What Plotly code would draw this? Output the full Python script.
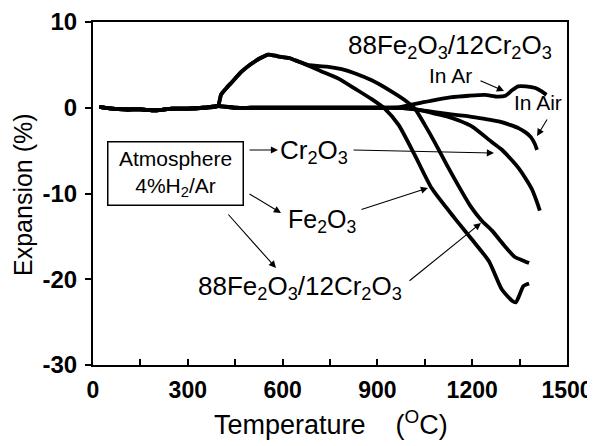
import plotly.graph_objects as go

# ---- data ----
base_T = [20, 60, 100, 150, 200, 250, 300, 350, 395]
base_E = [0.1, -0.1, -0.2, -0.2, -0.3, -0.1, -0.1, 0.0, 0.2]

fe_T = base_T + [405, 420, 440, 470, 500, 530, 555, 585, 620, 669, 720, 777, 830, 882,
                 923, 967, 1018, 1072, 1145, 1200, 1253, 1294, 1326, 1338, 1350, 1362, 1380]
fe_E = base_E + [1.5, 2.2, 3.0, 4.2, 5.1, 5.8, 6.2, 6.0, 5.8, 5.1, 4.3, 3.4, 2.2, 1.0,
                 -0.1, -2.0, -5.5, -9.4, -12.9, -15.4, -17.9, -21.2, -22.5, -22.7, -21.8, -20.8, -20.5]

mix_h2_T = base_T + [405, 420, 440, 470, 500, 530, 555, 585, 620, 650, 680, 701, 740, 787,
                     830, 882, 940, 986, 1018, 1050, 1081, 1120, 1158, 1195, 1231, 1262,
                     1300, 1335, 1360, 1380]
mix_h2_E = base_E + [1.5, 2.2, 3.0, 4.2, 5.1, 5.8, 6.2, 6.0, 5.8, 5.4, 5.0, 4.9, 4.8, 4.5,
                     4.0, 3.2, 2.0, 0.9, -0.1, -2.0, -4.0, -6.7, -9.2, -11.5, -13.2, -14.3,
                     -16.0, -17.4, -17.8, -18.1]

tail_T = [450, 500, 600, 700, 800, 900, 960]
tail_E = [0.0, 0.0, 0.0, 0.0, 0.0, 0.0, 0.0]

cr_T = base_T + tail_T + [1000, 1040, 1072, 1120, 1158, 1200, 1262, 1294, 1330, 1348, 1370,
                          1389, 1405, 1414]
cr_E = base_E + tail_E + [-0.1, -0.3, -0.6, -1.0, -1.5, -2.2, -4.0, -4.9, -6.3, -7.1, -8.3,
                          -9.5, -11.0, -12.0]

air_T = base_T + tail_T + [1000, 1040, 1081, 1140, 1189, 1240, 1284, 1320, 1348, 1370, 1385,
                           1398, 1405]
air_E = base_E + tail_E + [-0.1, -0.3, -0.5, -0.8, -1.0, -1.3, -1.6, -2.0, -2.4, -2.9, -3.4,
                           -4.2, -4.9]

ar_T = base_T + tail_T + [1000, 1040, 1081, 1130, 1189, 1240, 1280, 1305, 1325, 1345, 1370,
                          1400, 1420, 1435]
ar_E = base_E + tail_E + [0.3, 0.6, 0.9, 1.2, 1.4, 1.5, 1.3, 1.4, 2.0, 2.5, 2.5,
                          2.3, 1.9, 1.5]

x_ticks = [0, 300, 600, 900, 1200, 1500]
x_labels = ["0", "300", "600", "900", "1200", "1500"]
y_ticks = [-30, -20, -10, 0, 10]
y_labels = ["-30", "-20", "-10", "0", "10"]

FONT = "Liberation Sans, Arial, sans-serif"

fig = go.Figure()
series = [
    ("Cr2O3", cr_T, cr_E),
    ("88Fe2O3/12Cr2O3 in Air", air_T, air_E),
    ("88Fe2O3/12Cr2O3 in Ar", ar_T, ar_E),
    ("88Fe2O3/12Cr2O3 in 4%H2/Ar", mix_h2_T, mix_h2_E),
    ("Fe2O3", fe_T, fe_E),
]
for name, t, e in series:
    fig.add_trace(go.Scatter(x=t, y=e, mode="lines", name=name,
                             line=dict(color="black", width=3.8, shape="spline", smoothing=0.6),
                             showlegend=False))

# target plot area in screen pixels; the page body adds an 8 px offset
W, H = 595, 446
OFF = 8
L, R, T, B = 93, 567, 22, 365


def P(px, py):
    return (px - L) / (R - L), (B - py) / (B - T)


ann = []


def text(s, px, py, size=19, xanchor="left"):
    x, y = P(px, py)
    ann.append(dict(text=s, x=x, y=y, xref="paper", yref="paper", showarrow=False,
                    xanchor=xanchor, yanchor="middle",
                    font=dict(family=FONT, size=size, color="black")))


def arrow(tx, ty, hx, hy):
    x, y = P(hx, hy)
    ann.append(dict(text="", x=x, y=y, xref="paper", yref="paper", showarrow=True,
                    ax=tx - hx, ay=ty - hy, axref="pixel", ayref="pixel",
                    arrowhead=2, arrowsize=1.3, arrowwidth=1.1, arrowcolor="black"))


text("88Fe<sub>2</sub>O<sub>3</sub>/12Cr<sub>2</sub>O<sub>3</sub>", 346, 46, size=26)
text("In Ar", 427, 75, size=21)
arrow(479, 80, 504, 91)
text("In Air", 512, 103, size=21)
arrow(548, 118, 537, 136)

# box
bx, by = P(175.5, 173.5)
ann.append(dict(text="Atmosphere<br>4%H<sub>2</sub>/Ar", x=bx, y=by, xref="paper", yref="paper",
                showarrow=False, xanchor="center", yanchor="middle",
                font=dict(family=FONT, size=21, color="black"),
                bordercolor="black", borderwidth=1.5, borderpad=2, bgcolor="white",
                width=130, height=58))

text("Cr<sub>2</sub>O<sub>3</sub>", 278, 151, size=26)
arrow(248, 150, 278, 150)
arrow(352, 150, 494, 153)

text("Fe<sub>2</sub>O<sub>3</sub>", 286, 221, size=25)
arrow(248, 193, 281, 213)
arrow(360, 210, 428, 188)

text("88Fe<sub>2</sub>O<sub>3</sub>/12Cr<sub>2</sub>O<sub>3</sub>", 196, 287, size=26)
arrow(227, 213, 276, 268)
arrow(408, 282, 481, 223)

# axis titles
tx, ty = P(331, 423)
ann.append(dict(text="Temperature \u00a0\u00a0\u00a0(<sup>O</sup>C)", x=tx, y=ty,
                xref="paper", yref="paper",
                showarrow=False, xanchor="center", yanchor="middle",
                font=dict(family=FONT, size=27, color="black")))
tx, ty = P(23, 195)
ann.append(dict(text="Expansion (%)", x=tx, y=ty, xref="paper", yref="paper",
                showarrow=False, xanchor="center", yanchor="middle", textangle=-90,
                font=dict(family=FONT, size=25, color="black")))

fig.update_layout(
    width=W, height=H,
    margin=dict(l=L - OFF, r=W - (R - OFF), t=T - OFF, b=H - (B - OFF), autoexpand=False),
    paper_bgcolor="white", plot_bgcolor="white",
    annotations=ann,
    showlegend=False,
)
fig.update_xaxes(range=[0, 1500], tickvals=x_ticks, ticktext=x_labels, ticks="inside", ticklen=0,
                 automargin=False, ticklabelstandoff=3,
                 showgrid=False, zeroline=False, showline=True, linecolor="black",
                 linewidth=2, mirror=True,
                 tickfont=dict(family=FONT, size=23, color="black", weight="bold"),
                 minor=dict(dtick=150, ticks="inside", ticklen=6, tickwidth=1.5,
                            tickcolor="black", showgrid=False))
fig.update_yaxes(range=[-30, 10], tickvals=y_ticks, ticktext=y_labels, ticks="outside", ticklen=6,
                 tickwidth=1.5,
                 tickcolor="black", automargin=False, ticklabelstandoff=3,
                 showgrid=False, zeroline=False, showline=True, linecolor="black",
                 linewidth=2, mirror=True,
                 tickfont=dict(family=FONT, size=24, color="black", weight="bold"))

fig.write_html("out.html")
